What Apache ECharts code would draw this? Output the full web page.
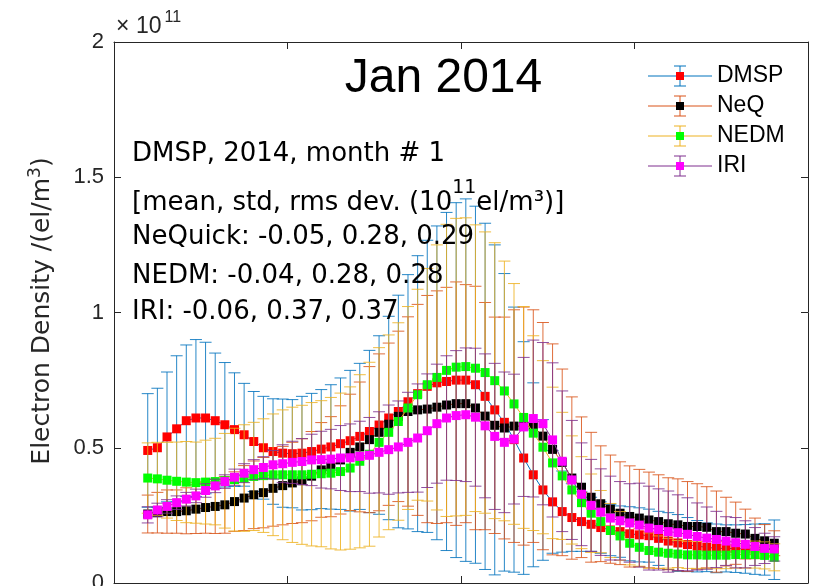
<!DOCTYPE html>
<html>
<head>
<meta charset="utf-8">
<script src="https://cdn.jsdelivr.net/npm/echarts@6/dist/echarts.min.js"></script>
<style>
  html, body { margin: 0; padding: 0; background: #fff; }
  #chart { width: 825px; height: 586px; }
</style>
</head>
<body>
<div id="chart"></div>
<script>
// Longitude bins (deg), 5-degree steps
const lon = [17.5, 22.5, 27.5, 32.5, 37.5, 42.5, 47.5, 52.5, 57.5, 62.5,
  67.5, 72.5, 77.5, 82.5, 87.5, 92.5, 97.5, 102.5, 107.5, 112.5,
  117.5, 122.5, 127.5, 132.5, 137.5, 142.5, 147.5, 152.5, 157.5, 162.5,
  167.5, 172.5, 177.5, 182.5, 187.5, 192.5, 197.5, 202.5, 207.5, 212.5,
  217.5, 222.5, 227.5, 232.5, 237.5, 242.5, 247.5, 252.5, 257.5, 262.5,
  267.5, 272.5, 277.5, 282.5, 287.5, 292.5, 297.5, 302.5, 307.5, 312.5,
  317.5, 322.5, 327.5, 332.5, 337.5, 342.5];

// Electron density, units of 1e11 el/m^3: mean and standard deviation per bin
const dmspMean = [0.49, 0.50, 0.54, 0.57, 0.60, 0.61, 0.61, 0.60, 0.585, 0.567,
  0.548, 0.523, 0.50, 0.486, 0.48, 0.478, 0.48, 0.486, 0.495, 0.503,
  0.515, 0.526, 0.542, 0.56, 0.584, 0.61, 0.634, 0.67, 0.70, 0.727,
  0.74, 0.745, 0.75, 0.75, 0.733, 0.69, 0.64, 0.594, 0.53, 0.462,
  0.40, 0.344, 0.30, 0.264, 0.242, 0.227, 0.217, 0.205, 0.196, 0.19,
  0.182, 0.178, 0.175, 0.165, 0.155, 0.148, 0.142, 0.136, 0.132, 0.128,
  0.128, 0.127, 0.126, 0.125, 0.124, 0.123];
const dmspStd = [0.21, 0.22, 0.24, 0.27, 0.28, 0.29, 0.28, 0.25, 0.23, 0.21,
  0.19, 0.185, 0.19, 0.195, 0.20, 0.20, 0.21, 0.215, 0.22, 0.23,
  0.243, 0.26, 0.27, 0.30, 0.33, 0.376, 0.43, 0.47, 0.51, 0.54,
  0.58, 0.625, 0.656, 0.67, 0.66, 0.64, 0.61, 0.55, 0.49, 0.43,
  0.34, 0.26, 0.19, 0.15, 0.125, 0.11, 0.10, 0.095, 0.095, 0.095,
  0.10, 0.10, 0.098, 0.10, 0.105, 0.105, 0.10, 0.095, 0.09, 0.09,
  0.087, 0.088, 0.09, 0.093, 0.095, 0.11];

const neqMean = [0.255, 0.26, 0.264, 0.264, 0.267, 0.273, 0.279, 0.283, 0.289, 0.301,
  0.314, 0.326, 0.334, 0.35, 0.36, 0.37, 0.378, 0.395, 0.418, 0.43,
  0.455, 0.483, 0.503, 0.53, 0.557, 0.587, 0.616, 0.634, 0.64, 0.643,
  0.65, 0.658, 0.663, 0.663, 0.647, 0.617, 0.583, 0.573, 0.58, 0.58,
  0.58, 0.543, 0.494, 0.446, 0.388, 0.354, 0.317, 0.293, 0.273, 0.258,
  0.246, 0.24, 0.233, 0.227, 0.219, 0.215, 0.209, 0.209, 0.206, 0.19,
  0.19, 0.184, 0.181, 0.165, 0.156, 0.147];
const neqStd = [0.07, 0.075, 0.08, 0.08, 0.085, 0.09, 0.095, 0.10, 0.105, 0.11,
  0.12, 0.125, 0.13, 0.14, 0.145, 0.15, 0.155, 0.165, 0.175, 0.185,
  0.20, 0.215, 0.24, 0.27, 0.29, 0.30, 0.315, 0.35, 0.39, 0.42,
  0.43, 0.435, 0.45, 0.44, 0.45, 0.42, 0.40, 0.41, 0.43, 0.44,
  0.43, 0.42, 0.39, 0.345, 0.30, 0.26, 0.24, 0.214, 0.20, 0.19,
  0.187, 0.18, 0.177, 0.173, 0.17, 0.17, 0.166, 0.158, 0.15, 0.15,
  0.127, 0.115, 0.092, 0.075, 0.06, 0.046];

const nedmMean = [0.388, 0.385, 0.38, 0.376, 0.373, 0.371, 0.373, 0.375, 0.378, 0.382,
  0.388, 0.394, 0.397, 0.40, 0.40, 0.40, 0.40, 0.402, 0.404, 0.406,
  0.412, 0.425, 0.45, 0.476, 0.52, 0.557, 0.597, 0.647, 0.696, 0.733,
  0.76, 0.786, 0.798, 0.80, 0.794, 0.778, 0.748, 0.71, 0.662, 0.612,
  0.554, 0.502, 0.444, 0.396, 0.344, 0.297, 0.258, 0.227, 0.194, 0.174,
  0.147, 0.132, 0.12, 0.114, 0.11, 0.107, 0.104, 0.104, 0.103, 0.103,
  0.103, 0.105, 0.105, 0.105, 0.102, 0.095];
const nedmStd = [0.13, 0.135, 0.14, 0.145, 0.15, 0.15, 0.155, 0.16, 0.175, 0.19,
  0.197, 0.20, 0.21, 0.225, 0.24, 0.25, 0.257, 0.265, 0.27, 0.28,
  0.29, 0.30, 0.32, 0.34, 0.35, 0.36, 0.365, 0.375, 0.39, 0.43,
  0.49, 0.54, 0.55, 0.55, 0.53, 0.52, 0.51, 0.48, 0.445, 0.41,
  0.36, 0.32, 0.28, 0.235, 0.20, 0.17, 0.145, 0.115, 0.10, 0.09,
  0.08, 0.07, 0.065, 0.06, 0.055, 0.05, 0.05, 0.05, 0.05, 0.05,
  0.05, 0.05, 0.05, 0.05, 0.05, 0.05];

const iriMean = [0.252, 0.27, 0.283, 0.297, 0.31, 0.322, 0.342, 0.359, 0.375, 0.391,
  0.406, 0.419, 0.427, 0.437, 0.441, 0.446, 0.449, 0.455, 0.456, 0.458,
  0.462, 0.463, 0.468, 0.472, 0.483, 0.493, 0.503, 0.52, 0.536, 0.563,
  0.589, 0.61, 0.619, 0.622, 0.613, 0.581, 0.542, 0.52, 0.532, 0.577,
  0.608, 0.589, 0.529, 0.45, 0.381, 0.328, 0.287, 0.262, 0.24, 0.23,
  0.222, 0.214, 0.203, 0.198, 0.19, 0.186, 0.18, 0.172, 0.166, 0.161,
  0.155, 0.149, 0.143, 0.135, 0.128, 0.126];
const iriStd = [0.03, 0.025, 0.025, 0.025, 0.025, 0.025, 0.025, 0.025, 0.025, 0.03,
  0.035, 0.037, 0.04, 0.053, 0.07, 0.078, 0.085, 0.095, 0.105, 0.11,
  0.12, 0.125, 0.13, 0.14, 0.15, 0.165, 0.17, 0.185, 0.20, 0.21,
  0.22, 0.23, 0.24, 0.247, 0.255, 0.266, 0.27, 0.26, 0.24, 0.257,
  0.29, 0.30, 0.285, 0.26, 0.22, 0.19, 0.17, 0.16, 0.155, 0.145,
  0.145, 0.155, 0.155, 0.15, 0.15, 0.14, 0.135, 0.124, 0.115, 0.104,
  0.09, 0.093, 0.087, 0.07, 0.056, 0.045];

const seriesNames = ['DMSP', 'NeQ', 'NEDM', 'IRI'];
const yTicks = ['0', '0.5', '1', '1.5', '2'];
const infoLines = [
  'DMSP, 2014, month # 1',
  'NeQuick: -0.05, 0.28, 0.29',
  'NEDM: -0.04, 0.28, 0.28',
  'IRI: -0.06, 0.37, 0.37'
];

const FONT = '"Liberation Sans", Arial, Helvetica, sans-serif';
const NOTE_FONT = '"DejaVu Sans", Verdana, sans-serif';
const AXIS_COLOR = '#262626';

const groups = [
  { name: seriesNames[0], mean: dmspMean, std: dmspStd, bar: '#0072BD', marker: '#FF0000' },
  { name: seriesNames[1], mean: neqMean, std: neqStd, bar: '#D95319', marker: '#000000' },
  { name: seriesNames[2], mean: nedmMean, std: nedmStd, bar: '#EDB120', marker: '#00FF00' },
  { name: seriesNames[3], mean: iriMean, std: iriStd, bar: '#7E2F8E', marker: '#FF00FF' }
];

const CAP = 6;

function errorBarSeries(g, z) {
  return {
    type: 'custom',
    name: g.name + '-err',
    z: z,
    silent: true,
    clip: true,
    data: lon.map((x, i) => [x, g.mean[i], g.std[i]]),
    encode: { x: 0, y: 1 },
    renderItem: function (params, api) {
      const x = api.value(0), m = api.value(1), s = api.value(2);
      const top = api.coord([x, m + s]);
      const bot = api.coord([x, m - s]);
      const st = { stroke: g.bar, lineWidth: 1, opacity: 0.85 };
      return {
        type: 'group',
        children: [
          { type: 'line', shape: { x1: top[0], y1: top[1], x2: bot[0], y2: bot[1] }, style: st },
          { type: 'line', shape: { x1: top[0] - CAP, y1: top[1], x2: top[0] + CAP, y2: top[1] }, style: st },
          { type: 'line', shape: { x1: bot[0] - CAP, y1: bot[1], x2: bot[0] + CAP, y2: bot[1] }, style: st }
        ]
      };
    }
  };
}

function meanSeries(g, z) {
  return {
    type: 'line',
    name: g.name,
    z: z,
    silent: true,
    data: lon.map((x, i) => [x, g.mean[i]]),
    symbol: 'rect',
    symbolSize: 9,
    showSymbol: true,
    itemStyle: { color: g.marker, borderWidth: 0 },
    lineStyle: { color: g.bar, width: 1 },
    emphasis: { disabled: true }
  };
}

const series = [];
groups.forEach((g, k) => {
  series.push(errorBarSeries(g, 2 + 2 * k));
  series.push(meanSeries(g, 3 + 2 * k));
});

// Legend drawn as line + error bar + marker, like the plotted series
const legendGraphics = [];
groups.forEach((g, k) => {
  const cy = 76 + 30 * k;
  const st = { stroke: g.bar, lineWidth: 1 };
  legendGraphics.push(
    { type: 'line', shape: { x1: 648, y1: cy, x2: 712, y2: cy }, style: st, z: 20 },
    { type: 'line', shape: { x1: 680, y1: cy - 10, x2: 680, y2: cy + 10 }, style: st, z: 20 },
    { type: 'line', shape: { x1: 674, y1: cy - 10, x2: 686, y2: cy - 10 }, style: st, z: 20 },
    { type: 'line', shape: { x1: 674, y1: cy + 10, x2: 686, y2: cy + 10 }, style: st, z: 20 },
    { type: 'rect', shape: { x: 676, y: cy - 4, width: 8, height: 8 }, style: { fill: g.marker }, z: 21 },
    { type: 'text', x: 717, y: cy, z: 21,
      style: { text: g.name, fontSize: 23, fontFamily: FONT, fill: '#000',
               align: 'left', verticalAlign: 'middle', textAlign: 'left', textVerticalAlign: 'middle' } }
  );
});

function txt(x, y, text, size, extra) {
  return {
    type: 'text', x: x, y: y, z: 30,
    style: Object.assign({
      text: text, fontSize: size, fontFamily: FONT, fill: '#000',
      align: 'left', verticalAlign: 'middle', textAlign: 'left', textVerticalAlign: 'middle'
    }, extra || {})
  };
}

const infoY = [154, 237.5, 276, 312];
const textGraphics = [
  txt(443.5, 79, 'Jan 2014', 48, { align: 'center', textAlign: 'center' }),
  txt(116, 27, '\u00d7', 23, { fill: AXIS_COLOR }),
  txt(136, 27, '10', 23, { fill: AXIS_COLOR }),
  txt(164.5, 17.5, '11', 16, { fill: AXIS_COLOR }),
  txt(132, 203, '{a|[mean, std, rms dev. (10}{s|11}{a|el/m\u00b3)]}', 26, {
    fontFamily: NOTE_FONT,
    rich: {
      a: { fontSize: 26, fontFamily: NOTE_FONT, fill: '#000', lineHeight: 48, verticalAlign: 'middle' },
      s: { fontSize: 19, fontFamily: NOTE_FONT, fill: '#000', lineHeight: 19, verticalAlign: 'top' }
    }
  }),
  {
    type: 'text', x: 42, y: 311, rotation: Math.PI / 2, z: 30,
    style: {
      text: '{a|Electron Density /(el/m}{s|3}{a|)}',
      fontFamily: NOTE_FONT, fontSize: 25, fill: AXIS_COLOR,
      align: 'center', verticalAlign: 'middle', textAlign: 'center', textVerticalAlign: 'middle',
      rich: {
        a: { fontSize: 25, fontFamily: NOTE_FONT, fill: AXIS_COLOR, lineHeight: 30, verticalAlign: 'middle' },
        s: { fontSize: 17, fontFamily: NOTE_FONT, fill: AXIS_COLOR, lineHeight: 17, verticalAlign: 'top' }
      }
    }
  }
];
infoLines.forEach((t, i) => textGraphics.push(txt(132, infoY[i], t, 26, { fontFamily: NOTE_FONT })));

const axisCommon = {
  axisLine: { show: true, onZero: false, lineStyle: { color: AXIS_COLOR, width: 1 } },
  axisTick: { show: true, inside: true, length: 7, lineStyle: { color: AXIS_COLOR } },
  splitLine: { show: false }
};

const chart = echarts.init(document.getElementById('chart'), null, { renderer: 'canvas' });
chart.setOption({
  animation: false,
  backgroundColor: '#ffffff',
  grid: { left: 114, top: 42, right: 17, bottom: 3, containLabel: false, outerBoundsMode: 'none' },
  xAxis: [
    Object.assign({ type: 'value', min: 0, max: 360, interval: 90, position: 'bottom',
      axisLabel: { show: false } }, axisCommon),
    Object.assign({ type: 'value', min: 0, max: 360, interval: 90, position: 'top',
      axisLabel: { show: false } }, axisCommon)
  ],
  yAxis: [
    Object.assign({ type: 'value', min: 0, max: 2, interval: 0.5, position: 'left',
      axisLabel: { show: true, fontSize: 22, fontFamily: FONT, color: AXIS_COLOR, margin: 10,
        formatter: function (v) { return yTicks[Math.round(v / 0.5)]; } } }, axisCommon),
    Object.assign({ type: 'value', min: 0, max: 2, interval: 0.5, position: 'right',
      axisLabel: { show: false } }, axisCommon)
  ],
  series: series,
  graphic: { elements: legendGraphics.concat(textGraphics) }
});
</script>
</body>
</html>
